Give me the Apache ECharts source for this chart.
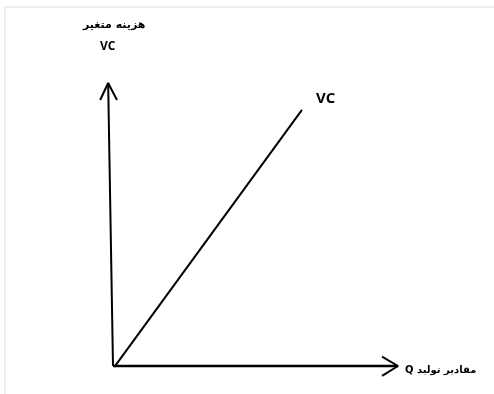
<!DOCTYPE html>
<html>
<head>
<meta charset="utf-8">
<script src="https://cdn.jsdelivr.net/npm/echarts@6/dist/echarts.min.js"></script>
<style>
  html,body{margin:0;padding:0;background:#fff;}
  #main{width:494px;height:394px;}
</style>
</head>
<body>
<div id="main"></div>
<script>
// data (arbitrary units, origin at 0,0)
// VC line: variable cost rises linearly with output Q
let vcLine=[[0.05,-0.03],[6.63,9.05]]
// axes drawn as lines with open arrow heads
let qAxis=[[0,0],[10,0]]
let qArrow=[[9.44,0.33],[10,0],[9.44,-0.35]]
let vcAxis=[[0,0],[-0.17,10]]
let vcArrow=[[-0.45,9.4],[-0.17,10],[0.14,9.4]]

let yTitle='هزینه متغیر'
let yTitle2='VC'
let xTitle='\u202Bمقادیر تولید Q\u202C'
let lineName='VC'

var myChart=echarts.init(document.getElementById('main'))

function seg(data,w){
  return {
    type:'line',data:data,symbol:'none',clip:false,silent:true,
    lineStyle:{color:'#000',width:w||2},animation:false
  }
}

// 28.5px per unit on x, 28.3px per unit on y, origin at (113,366)
let option={
  backgroundColor:'#fff',
  animation:false,
  grid:{left:98.75,top:83,width:299.25,height:297.15},
  xAxis:{type:'value',min:-0.5,max:10,show:false},
  yAxis:{type:'value',min:-0.5,max:10,show:false},
  graphic:[
    {type:'line',shape:{x1:5,y1:7,x2:494,y2:7},style:{stroke:'#ededed',lineWidth:2}},
    {type:'line',shape:{x1:5,y1:7,x2:5,y2:394},style:{stroke:'#ededed',lineWidth:2}},
    {type:'text',left:83,top:20,style:{text:yTitle,font:'bold 11px "DejaVu Sans"',fill:'#000'}},
    {type:'text',left:100,top:41,style:{text:yTitle2,font:'bold 12px "Open Sans"',fill:'#000'}},
    {type:'text',left:316,top:91,style:{text:lineName,font:'bold 15px "Open Sans"',fill:'#000'}},
    {type:'text',left:405,top:365,style:{text:xTitle,font:'bold 10px "DejaVu Sans"',fill:'#000'}}
  ],
  series:[
    seg(vcAxis,2),
    seg(vcArrow,2),
    seg(qAxis,2.5),
    seg(qArrow,2),
    seg(vcLine,2)
  ]
}
myChart.setOption(option)
</script>
</body>
</html>
